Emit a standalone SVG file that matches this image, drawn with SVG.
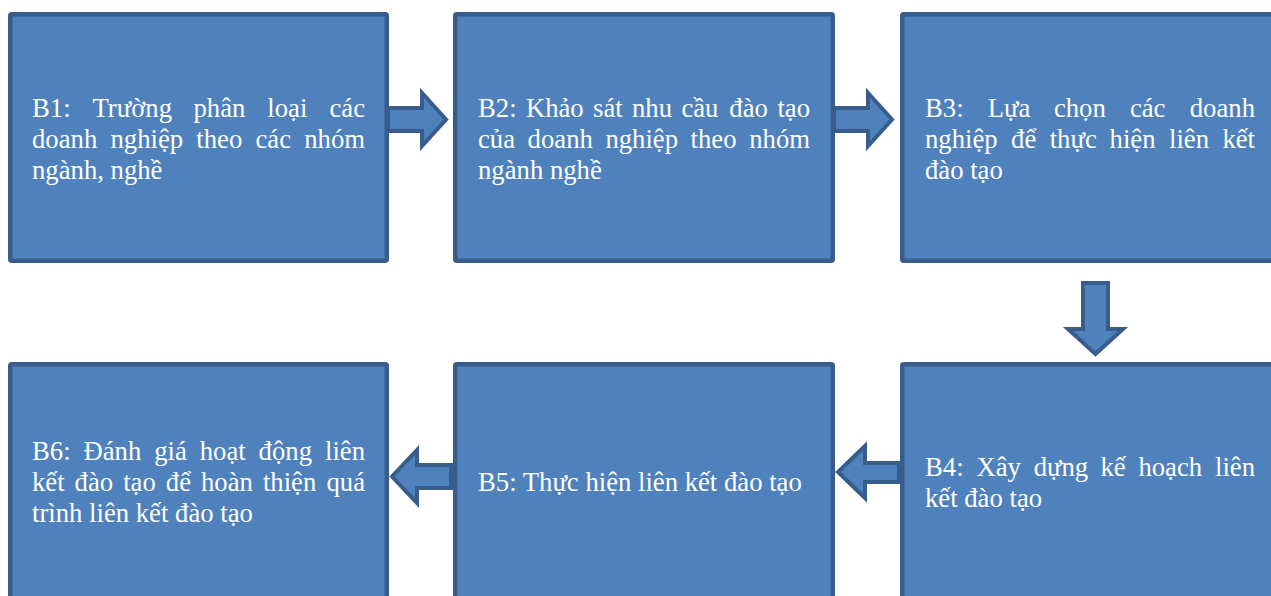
<svg xmlns="http://www.w3.org/2000/svg" width="1271" height="596" viewBox="0 0 1271 596">
<style>
.box{fill:#4F81BD;stroke:#385D8A;stroke-width:4.5;stroke-linejoin:round}
.arr{fill:#4F81BD;stroke:#385D8A;stroke-width:4;stroke-linejoin:miter}
text{font-family:"Liberation Serif","Times New Roman",serif;font-size:26.7px;fill:#FFFFFF}
.e{text-anchor:end}
</style>
<rect x="0" y="0" width="1271" height="596" fill="#FFFFFF"/>
<g id="connectors">
<polygon class="arr" points="388,108 422,108 422,93 446,119.5 422,146 422,131 388,131"/>
<polygon class="arr" points="834,108 868,108 868,93 892,119.5 868,146 868,131 834,131"/>
<polygon class="arr" points="1083,283 1108,283 1108,329 1123,329 1095.5,354 1068,329 1083,329"/>
<polygon class="arr" points="899,463 865,463 865,446 838,472 865,498 865,482 899,482"/>
<polygon class="arr" points="451,465 417,465 417,450 392,476.5 417,503 417,488 451,488"/>
</g>
<g id="B1">
<rect class="box" x="10.25" y="14.25" width="376.5" height="246.5" rx="1.5"/>
<text y="116.5"><tspan x="32">B1:</tspan><tspan x="92.5">Trường</tspan><tspan x="193.5">phân</tspan><tspan x="267.3">loại</tspan><tspan x="365" class="e">các</tspan></text>
<text y="147.5"><tspan x="32">doanh</tspan><tspan x="110.5">nghiệp</tspan><tspan x="196.3">theo</tspan><tspan x="255.5">các</tspan><tspan x="365" class="e">nhóm</tspan></text>
<text x="32" y="178.5">ngành, nghề</text>
</g>
<g id="B2">
<rect class="box" x="455.25" y="14.25" width="377.5" height="246.5" rx="1.5"/>
<text y="116.5"><tspan x="478">B2:</tspan><tspan x="525.9">Khảo</tspan><tspan x="593">sát</tspan><tspan x="632">nhu</tspan><tspan x="681.4">cầu</tspan><tspan x="729.3">đào</tspan><tspan x="810" class="e">tạo</tspan></text>
<text y="147.5"><tspan x="478">của</tspan><tspan x="527.6">doanh</tspan><tspan x="605.4">nghiệp</tspan><tspan x="690.6">theo</tspan><tspan x="810" class="e">nhóm</tspan></text>
<text x="478" y="178.5">ngành nghề</text>
</g>
<g id="B3">
<rect class="box" x="902.25" y="14.25" width="400" height="246.5" rx="1.5"/>
<text y="116.5"><tspan x="925">B3:</tspan><tspan x="987.7">Lựa</tspan><tspan x="1053.9">chọn</tspan><tspan x="1129.9">các</tspan><tspan x="1255" class="e">doanh</tspan></text>
<text y="147.5"><tspan x="925">nghiệp</tspan><tspan x="1011.1">để</tspan><tspan x="1049.7">thực</tspan><tspan x="1109.6">hiện</tspan><tspan x="1169">liên</tspan><tspan x="1255" class="e">kết</tspan></text>
<text x="925" y="178.5">đào tạo</text>
</g>
<g id="B4">
<rect class="box" x="902.25" y="364.25" width="400" height="250" rx="1.5"/>
<text y="476"><tspan x="925">B4:</tspan><tspan x="976.4">Xây</tspan><tspan x="1033.7">dựng</tspan><tspan x="1100.4">kế</tspan><tspan x="1138.4">hoạch</tspan><tspan x="1255" class="e">liên</tspan></text>
<text x="925" y="507">kết đào tạo</text>
</g>
<g id="B5">
<rect class="box" x="455.25" y="364.25" width="377.5" height="250" rx="1.5"/>
<text x="478" y="491">B5: Thực hiện liên kết đào tạo</text>
</g>
<g id="B6">
<rect class="box" x="10.25" y="364.25" width="376.5" height="250" rx="1.5"/>
<text y="460"><tspan x="32">B6:</tspan><tspan x="83.5">Đánh</tspan><tspan x="154.2">giá</tspan><tspan x="199.7">hoạt</tspan><tspan x="258.6">động</tspan><tspan x="365" class="e">liên</tspan></text>
<text y="491"><tspan x="32">kết</tspan><tspan x="74.6">đào</tspan><tspan x="123.2">tạo</tspan><tspan x="165.8">để</tspan><tspan x="201">hoàn</tspan><tspan x="262.9">thiện</tspan><tspan x="365" class="e">quá</tspan></text>
<text x="32" y="522">trình liên kết đào tạo</text>
</g>
</svg>
